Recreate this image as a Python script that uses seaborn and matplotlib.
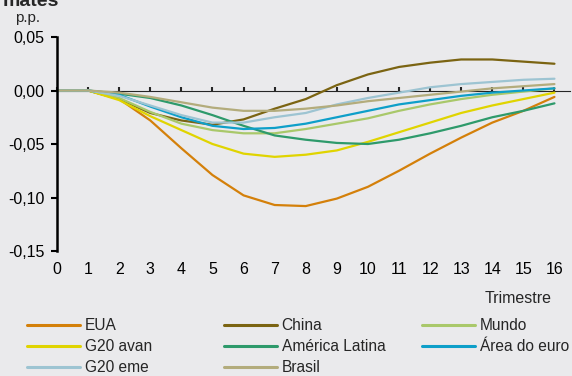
import matplotlib.pyplot as plt
import numpy as np
import pandas as pd
import seaborn as sns

# quarters after the shock
trimestres = list(range(17))

eua = [0, 0, -0.008, -0.028, -0.054, -0.079, -0.098, -0.107, -0.108, -0.101,
       -0.090, -0.075, -0.059, -0.044, -0.030, -0.019, -0.006]
china = [0, 0, -0.008, -0.021, -0.028, -0.032, -0.027, -0.017, -0.008, 0.005,
         0.015, 0.022, 0.026, 0.029, 0.029, 0.027, 0.025]
mundo = [0, 0, -0.007, -0.020, -0.031, -0.037, -0.040, -0.040, -0.036, -0.031,
         -0.026, -0.019, -0.013, -0.008, -0.004, -0.001, 0.002]
g20_avan = [0, 0, -0.009, -0.024, -0.037, -0.050, -0.059, -0.062, -0.060, -0.056,
            -0.048, -0.039, -0.030, -0.021, -0.014, -0.008, -0.002]
am_latina = [0, 0, -0.003, -0.007, -0.014, -0.023, -0.033, -0.042, -0.046, -0.049,
             -0.050, -0.046, -0.040, -0.033, -0.025, -0.019, -0.012]
area_euro = [0, 0, -0.004, -0.015, -0.025, -0.033, -0.036, -0.035, -0.031, -0.025,
             -0.019, -0.013, -0.009, -0.005, -0.002, 0.000, 0.002]
g20_eme = [0, 0, -0.005, -0.014, -0.023, -0.030, -0.030, -0.025, -0.021, -0.013,
           -0.007, -0.002, 0.003, 0.006, 0.008, 0.010, 0.011]
brasil = [0, 0, -0.002, -0.006, -0.011, -0.016, -0.019, -0.019, -0.017, -0.014,
          -0.010, -0.007, -0.004, -0.001, 0.002, 0.004, 0.006]

series = {
    'EUA': eua, 'China': china, 'Mundo': mundo, 'G20 avan': g20_avan,
    'América Latina': am_latina, 'Área do euro': area_euro,
    'G20 eme': g20_eme, 'Brasil': brasil,
}
cores = {
    'EUA': '#D4800A', 'China': '#7B6412', 'Mundo': '#A9C86A', 'G20 avan': '#E0D400',
    'América Latina': '#2E9A6B', 'Área do euro': '#0E9FC9',
    'G20 eme': '#9DC4D2', 'Brasil': '#B3AC7C',
}

df = pd.DataFrame([(k, t, v) for k, vals in series.items() for t, v in zip(trimestres, vals)],
                  columns=['serie', 'trimestre', 'valor'])

sns.set_style('white')
plt.rcParams['font.family'] = ['Liberation Sans', 'DejaVu Sans']
plt.rcParams['font.size'] = 11.5

bg = '#EAEAEC'
fig = plt.figure(figsize=(5.72, 3.76), dpi=100, facecolor=bg)
ax = fig.add_axes([0.0997, 0.3324, 0.8968, 0.5692])
ax.set_facecolor(bg)

sns.lineplot(data=df, x='trimestre', y='valor', hue='serie', palette=cores,
             hue_order=list(series.keys()), linewidth=1.6, ax=ax, legend=False)

ax.set_xlim(0, 16.5)
ax.set_ylim(-0.15, 0.05)
ax.set_yticks([-0.15, -0.10, -0.05, 0.00, 0.05])
ax.set_yticklabels([f'{v:.2f}'.replace('.', ',') for v in [-0.15, -0.10, -0.05, 0.00, 0.05]])
ax.set_xticks(trimestres)
ax.set_xticklabels([str(t) for t in trimestres])
ax.set_xlabel('')
ax.set_ylabel('')

for s in ['top', 'right', 'bottom']:
    ax.spines[s].set_visible(False)
ax.spines['left'].set_linewidth(1.8)
ax.spines['left'].set_color('black')
ax.tick_params(axis='y', direction='out', length=4, width=1.5, pad=5, colors='black', left=True)
ax.tick_params(axis='x', length=0, pad=8, colors='black')

# zero line with the tick marks
sec = ax.secondary_xaxis(0.75)
sec.set_xticks(trimestres)
sec.set_xticklabels([])
sec.tick_params(direction='out', length=3, width=1.5)
sec.spines['bottom'].set_linewidth(1.8)

fig.text(0.049, 0.952, 'p.p.', ha='center', va='center', fontsize=11)
fig.text(0.906, 0.207, 'Trimestre', ha='center', va='center', fontsize=11.5)
fig.text(0.005, 0.985, 'mates', ha='left', va='baseline', fontsize=14, fontweight='bold')

colunas = [(['EUA', 'G20 avan', 'G20 eme'], 27),
           (['China', 'América Latina', 'Brasil'], 224),
           (['Mundo', 'Área do euro'], 422)]
for nomes, x0 in colunas:
    handles = [plt.Line2D([], [], color=cores[k], linewidth=2.2) for k in nomes]
    leg = fig.legend(handles, nomes, loc='upper left', bbox_to_anchor=(x0 / 572, 0.153),
                     frameon=False, handlelength=3.4, handletextpad=0.3, borderpad=0,
                     labelspacing=0.38, borderaxespad=0, fontsize=11.2)

plt.savefig('out.png', dpi=100, facecolor=bg)
